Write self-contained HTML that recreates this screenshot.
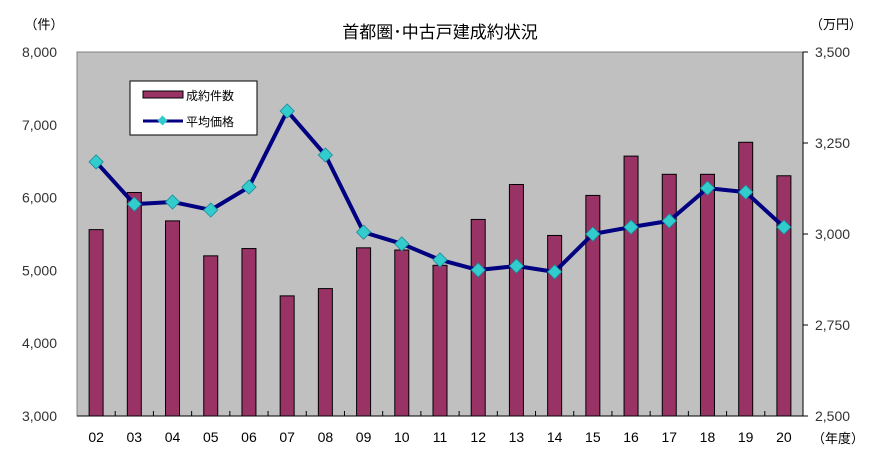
<!DOCTYPE html>
<html><head><meta charset="utf-8"><style>
body{margin:0;background:#fff;font-family:"Liberation Sans","Noto Sans CJK JP",sans-serif;}
svg text{font-family:"Liberation Sans","Noto Sans CJK JP",sans-serif;}
</style></head><body>
<svg id="chart" width="880" height="462" xmlns="http://www.w3.org/2000/svg">
<text x="440" y="38" text-anchor="middle" font-size="17" fill="#000">首都圏･中古戸建成約状況</text>
<text x="44" y="29" text-anchor="middle" font-size="13">（件）</text>
<text x="836" y="29" text-anchor="middle" font-size="13">（万円）</text>
<text x="838" y="443" text-anchor="middle" font-size="13">（年度）</text>
<rect x="77" y="52" width="726" height="364" fill="#c0c0c0" stroke="#808080"/>
<g id="bars"></g><g id="line"></g><g id="axes"></g>
<g>
<rect x="130" y="81" width="127" height="54" fill="#fff" stroke="#000"/>
<rect x="143" y="91" width="40" height="7" fill="#993366" stroke="#000"/>
<text x="186" y="100" font-size="12">成約件数</text>
<line x1="143" y1="121" x2="183" y2="121" stroke="#000080" stroke-width="3"/>
<rect x="159" y="117" width="7" height="7" fill="#33cccc" transform="rotate(45 162.5 120.5)"/>
<text x="186" y="126" font-size="12">平均価格</text>
</g>
</svg>
<script>
const categories=["02","03","04","05","06","07","08","09","10","11","12","13","14","15","16","17","18","19","20"];
const counts=[5560,6070,5680,5200,5300,4650,4750,5310,5280,5070,5700,6180,5480,6030,6570,6320,6320,6760,6300];
const prices=[3198,3082,3088,3066,3129,3338,3217,3005,2973,2929,2901,2912,2896,3000,3019,3036,3126,3115,3019];
const leftTicks=[3000,4000,5000,6000,7000,8000];
const rightTicks=[2500,2750,3000,3250,3500];
const L=77,R=803,T=52,B=416,NS="http://www.w3.org/2000/svg";
const step=(R-L)/categories.length;
const xc=i=>L+step*(i+0.5);
const yL=v=>B-(v-3000)/5000*(B-T);
const yR=v=>B-(v-2500)/1000*(B-T);
function mk(tag,attrs,parent){const e=document.createElementNS(NS,tag);for(const k in attrs)e.setAttribute(k,attrs[k]);parent.appendChild(e);return e;}
const gb=document.getElementById('bars'),gl=document.getElementById('line'),ga=document.getElementById('axes');
counts.forEach((v,i)=>{const r=mk('rect',{x:xc(i)-7,y:yL(v),width:14,height:B-yL(v),fill:'#993366',stroke:'#000','stroke-width':1},gb);

});
const pl=mk('polyline',{points:prices.map((v,i)=>xc(i)+','+yR(v)).join(' '),fill:'none',stroke:'#000080','stroke-width':4,'stroke-linejoin':'round'},gl);


prices.forEach((v,i)=>{const x=xc(i),y=yR(v);const m=mk('rect',{x:x-5,y:y-5,width:10,height:10,fill:'#33cccc',stroke:'#1a8a9a','stroke-width':0.8,transform:`rotate(45 ${x} ${y})`},gl);

});
mk('line',{x1:L,y1:B,x2:R,y2:B,stroke:'#000'},ga);
mk('line',{x1:R,y1:T,x2:R,y2:B,stroke:'#000'},ga);
for(let i=1;i<categories.length;i++)mk('line',{x1:L+step*i,y1:B,x2:L+step*i,y2:B-5,stroke:'#000'},ga);
categories.forEach((c,i)=>{const t=mk('text',{x:xc(i),y:442,'text-anchor':'middle','font-size':14},ga);t.textContent=c;

});
leftTicks.forEach(v=>{const t=mk('text',{x:57,y:yL(v)+5,'text-anchor':'end','font-size':14,fill:'#333'},ga);t.textContent=v.toLocaleString('en-US');

});
rightTicks.forEach(v=>{mk('line',{x1:R,y1:yR(v),x2:R+5,y2:yR(v),stroke:'#000'},ga);const t=mk('text',{x:815,y:yR(v)+5,'font-size':14,fill:'#333'},ga);t.textContent=v.toLocaleString('en-US');

});
</script>
</body></html>
